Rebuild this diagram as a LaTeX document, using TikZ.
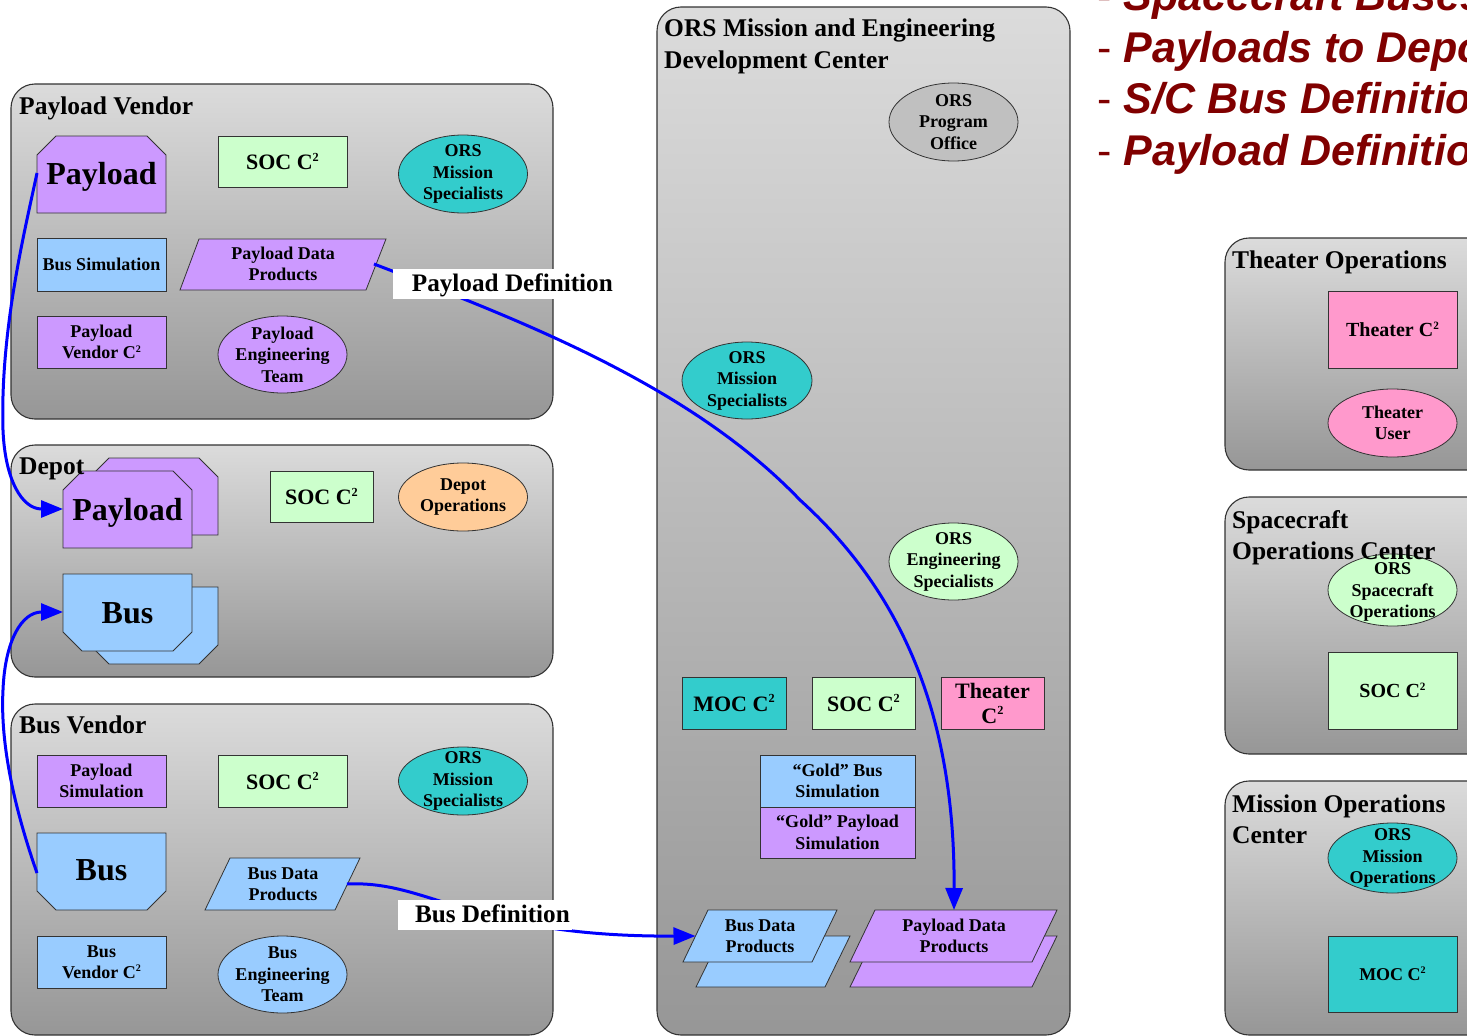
\documentclass[tikz,border=0pt]{standalone}
\usepackage{fontspec}
\usepackage{graphicx}
\setmainfont{Liberation Serif}
\newfontfamily\notesans{Liberation Sans}
\usetikzlibrary{shapes.geometric,arrows.meta}

\definecolor{lilac}{HTML}{CC99FF}
\definecolor{sky}{HTML}{99CCFF}
\definecolor{mint}{HTML}{CCFFCC}
\definecolor{teal2}{HTML}{33CCCC}
\definecolor{rose}{HTML}{FF99CC}
\definecolor{peach}{HTML}{FFCC99}
\definecolor{silver}{HTML}{C0C0C0}
\definecolor{maroon}{HTML}{800000}
\definecolor{flowblue}{HTML}{0000FF}
\definecolor{edge}{HTML}{333333}

% "C squared" with a small raised 2
\newcommand\Csq{C\raisebox{0.38em}{\scalebox{0.56}{2}}}

\tikzset{
  panel/.style={rounded corners=24pt, draw=black!80, line width=1.1pt,
                top color=black!14, bottom color=black!41},
  shapeline/.style={draw=edge, line width=0.8pt},
  t18/.style={font=\bfseries\fontsize{18}{21.5}\selectfont},
  t20/.style={font=\bfseries\fontsize{20}{24}\selectfont},
  t22/.style={font=\bfseries\fontsize{22}{25}\selectfont},
  t25/.style={font=\bfseries\fontsize{25.5}{31.5}\selectfont},
  t32/.style={font=\bfseries\fontsize{32}{36}\selectfont},
  rbox/.style={shapeline, rectangle, align=center, inner sep=0pt},
  ebox/.style={shapeline, ellipse, inner sep=0pt, minimum width=129pt},
  etxt/.style={align=center, inner sep=0pt, t18},
  title/.style={anchor=base west, inner sep=0pt, t25},
  bigtxt/.style={anchor=base, inner sep=0pt, t32},
  deflabel/.style={fill=white, anchor=base east, inner xsep=0pt, inner ysep=2.5pt,
                   text height=20pt, text depth=5.5pt,
                   font=\bfseries\fontsize{25.2}{30}\selectfont},
  flow/.style={draw=flowblue, line width=3pt, -{Triangle[length=22pt,width=17pt]}},
  note/.style={anchor=base west, inner sep=0pt, text=maroon,
               font=\notesans\fontsize{43}{43}\selectfont},
}

\begin{document}
\begin{tikzpicture}[x=1pt,y=-1pt]
\useasboundingbox (0,0) rectangle (1467,1036);
\clip (0,0) rectangle (1467,1036);

% ---------- group panels ----------
\path[panel] (11,84) rectangle (553,419);
\path[panel] (11,445) rectangle (553,677);
\path[panel] (11,704) rectangle (553,1035);
\path[panel] (657,7) rectangle (1070,1035);
\path[panel] (1225,238) rectangle (1495,470);
\path[panel] (1225,497) rectangle (1495,754);
\path[panel] (1225,781) rectangle (1495,1035);

% ---------- Payload Vendor ----------
\node[title] (pvT) at (19,114) {Payload Vendor};
\path[shapeline, fill=lilac] (37,213) -- (37,155) -- (56,136) -- (147,136) -- (166,155) -- (166,213) -- cycle;
\node[bigtxt] (pvPay) at (101.5,184) {Payload};
\coordinate (pvPayW) at (37,173);
\node[rbox, fill=mint, minimum width=129pt, minimum height=51pt, t22] (pvSoc) at (282.5,161.5) {SOC \Csq};
\node[ebox, fill=teal2, minimum height=78pt] (pvOrs) at (463,174) {};
\node[etxt] (pvOrsT) at (pvOrs.center) {ORS\\Mission\\Specialists};
\node[rbox, fill=sky, minimum width=129pt, minimum height=53pt, t18] (pvBsim) at (101.5,264.5) {Bus Simulation};
\path[shapeline, fill=lilac] (180,290) -- (199,239) -- (386,239) -- (366,290) -- cycle;
\node[etxt] (pvPdp) at (283,264) {Payload Data\\Products};
\coordinate (pvPdpE) at (374,264);
\node[rbox, fill=lilac, minimum width=129pt, minimum height=52pt, t18] (pvC2) at (101.5,342) {Payload\\Vendor \Csq};
\node[ebox, fill=lilac, minimum height=77pt] (pvEng) at (282.5,354.5) {};
\node[etxt] (pvEngT) at (pvEng.center) {Payload\\Engineering\\Team};

% ---------- Depot ----------
\path[shapeline, fill=lilac] (90,535) -- (90,477) -- (109,458) -- (199,458) -- (218,477) -- (218,535) -- cycle;
\path[shapeline, fill=lilac] (63,548) -- (63,490) -- (82,471) -- (173,471) -- (192,490) -- (192,548) -- cycle;
\node[bigtxt] (dPay) at (127.5,520) {Payload};
\coordinate (dPayW) at (63,509);
\path[shapeline, fill=sky] (90,587) -- (218,587) -- (218,645) -- (199,664) -- (109,664) -- (90,645) -- cycle;
\path[shapeline, fill=sky] (63,574) -- (192,574) -- (192,632) -- (173,651) -- (82,651) -- (63,632) -- cycle;
\node[bigtxt] (dBus) at (127.5,623) {Bus};
\coordinate (dBusW) at (63,612);
\node[rbox, fill=mint, minimum width=103pt, minimum height=51pt, t22] (dSoc) at (321.5,496.5) {SOC \Csq};
\node[ebox, fill=peach, minimum height=68pt] (dOps) at (463,497) {};
\node[etxt] (dOpsT) at (dOps.center) {Depot\\Operations};
\node[title] (dT) at (19,474) {Depot};

% ---------- Bus Vendor ----------
\node[title] (bvT) at (19,733) {Bus Vendor};
\node[rbox, fill=lilac, minimum width=129pt, minimum height=52pt, t18] (bvPsim) at (101.5,781) {Payload\\Simulation};
\node[rbox, fill=mint, minimum width=129pt, minimum height=52pt, t22] (bvSoc) at (282.5,781) {SOC \Csq};
\node[ebox, fill=teal2, minimum height=68pt] (bvOrs) at (463,781) {};
\node[etxt] (bvOrsT) at (bvOrs.center) {ORS\\Mission\\Specialists};
\path[shapeline, fill=sky] (37,833) -- (166,833) -- (166,891) -- (147,910) -- (56,910) -- (37,891) -- cycle;
\node[bigtxt] (bvBus) at (101.5,880) {Bus};
\coordinate (bvBusW) at (37,873);
\path[shapeline, fill=sky] (205,910) -- (230,858) -- (360,858) -- (335,910) -- cycle;
\node[etxt] (bvBdp) at (283,884) {Bus Data\\Products};
\coordinate (bvBdpE) at (347,884);
\node[rbox, fill=sky, minimum width=129pt, minimum height=52pt, t18] (bvC2) at (101.5,962) {Bus\\Vendor \Csq};
\node[ebox, fill=sky, minimum height=77pt] (bvEng) at (282.5,974.5) {};
\node[etxt] (bvEngT) at (bvEng.center) {Bus\\Engineering\\Team};

% ---------- ORS Mission and Engineering Development Center ----------
\node[title] (cT1) at (664,36) {ORS Mission and Engineering};
\node[title] (cT2) at (664,68) {Development Center};
\node[ebox, fill=silver, minimum height=78pt] (cPo) at (953.5,122) {};
\node[etxt] (cPoT) at (cPo.center) {ORS\\Program\\Office};
\node[ebox, fill=teal2, minimum width=130pt, minimum height=77pt] (cMs) at (747,380.5) {};
\node[etxt] (cMsT) at (cMs.center) {ORS\\Mission\\Specialists};
\node[ebox, fill=mint, minimum height=77pt] (cEs) at (953.5,561.5) {};
\node[etxt] (cEsT) at (cEs.center) {ORS\\Engineering\\Specialists};
\node[rbox, fill=teal2, minimum width=104pt, minimum height=52pt, t22] (cMoc) at (734,703) {MOC \Csq};
\node[rbox, fill=mint, minimum width=103pt, minimum height=52pt, t22] (cSoc) at (863.5,703) {SOC \Csq};
\node[rbox, fill=rose, minimum width=103pt, minimum height=52pt, t22] (cTh) at (992.5,703) {Theater\\\Csq};
\node[rbox, fill=sky, minimum width=155pt, minimum height=52pt, t18] (cGbus) at (837.5,781) {“Gold” Bus\\Simulation};
\node[rbox, fill=lilac, minimum width=155pt, minimum height=51pt, t18] (cGpay) at (837.5,832.5) {“Gold” Payload\\Simulation};
\path[shapeline, fill=sky] (696,987) -- (721,936) -- (850,936) -- (825,987) -- cycle;
\path[shapeline, fill=sky] (683,962) -- (708,910) -- (837,910) -- (812,962) -- cycle;
\node[etxt] (cBdp) at (760,936) {Bus Data\\Products};
\coordinate (cBdpW) at (695.5,936);
\path[shapeline, fill=lilac] (850,987) -- (875,936) -- (1057,936) -- (1032,987) -- cycle;
\path[shapeline, fill=lilac] (850,962) -- (875,910) -- (1057,910) -- (1032,962) -- cycle;
\node[etxt] (cPdp) at (954,936) {Payload Data\\Products};
\coordinate (cPdpN) at (954,910);

% ---------- Theater Operations ----------
\node[title] (thT) at (1232,268) {Theater Operations};
\node[rbox, fill=rose, minimum width=129pt, minimum height=77pt, t20] (thC2) at (1392.5,329.5) {Theater \Csq};
\node[ebox, fill=rose, minimum height=68pt] (thUser) at (1392.5,423) {};
\node[etxt] (thUserT) at (thUser.center) {Theater\\User};

% ---------- Spacecraft Operations Center ----------
\node[ebox, fill=mint, minimum height=72pt] (scOps) at (1392.5,590) {};
\node[etxt] (scOpsT) at (1392.5,592) {ORS\\Spacecraft\\Operations};
\node[title] (scT1) at (1232,528) {Spacecraft};
\node[title] (scT2) at (1232,559) {Operations Center};
\node[rbox, fill=mint, minimum width=129pt, minimum height=77pt, t20] (scSoc) at (1392.5,690.5) {SOC \Csq};

% ---------- Mission Operations Center ----------
\node[title] (moT1) at (1232,812) {Mission Operations};
\node[title] (moT2) at (1232,843) {Center};
\node[ebox, fill=teal2, minimum height=70pt] (moOps) at (1392.5,858) {};
\node[etxt] (moOpsT) at (moOps.center) {ORS\\Mission\\Operations};
\node[rbox, fill=teal2, minimum width=129pt, minimum height=76pt, t18] (moMoc) at (1392.5,974) {MOC \Csq};

% ---------- flows ----------
\draw[flow] (pvPayW) .. controls (25,230) and (0,330) .. (3,430)
                     .. controls (5,480) and (22,509) .. (dPayW);
\draw[flow] (bvBusW) .. controls (15,810) and (0,745) .. (3,690)
                     .. controls (5,640) and (22,612) .. (dBusW);
\draw[flow] (pvPdpE) .. controls (520,320) and (690,385) .. (800,500)
                     .. controls (905,595) and (955,720) .. (cPdpN);
\draw[flow] (bvBdpE) .. controls (430,880) and (470,937) .. (cBdpW);

\node[deflabel] (pdLab) at (613,291) {\hspace*{19pt}Payload Definition};
\node[deflabel] (bdLab) at (572,922) {\hspace*{17pt}Bus Definition\hspace*{2pt}};

% ---------- notes ----------
\node[note] (n1) at (1097,10.5) {- \textbf{\textit{Spacecraft Buses}}};
\node[note] (n2) at (1097,62) {- \textbf{\textit{Payloads to Depot}}};
\node[note] (n3) at (1097,113.5) {- \textbf{\textit{S/C Bus Definition}}};
\node[note] (n4) at (1097,165) {- \textbf{\textit{Payload Definition}}};
\end{tikzpicture}
\end{document}
